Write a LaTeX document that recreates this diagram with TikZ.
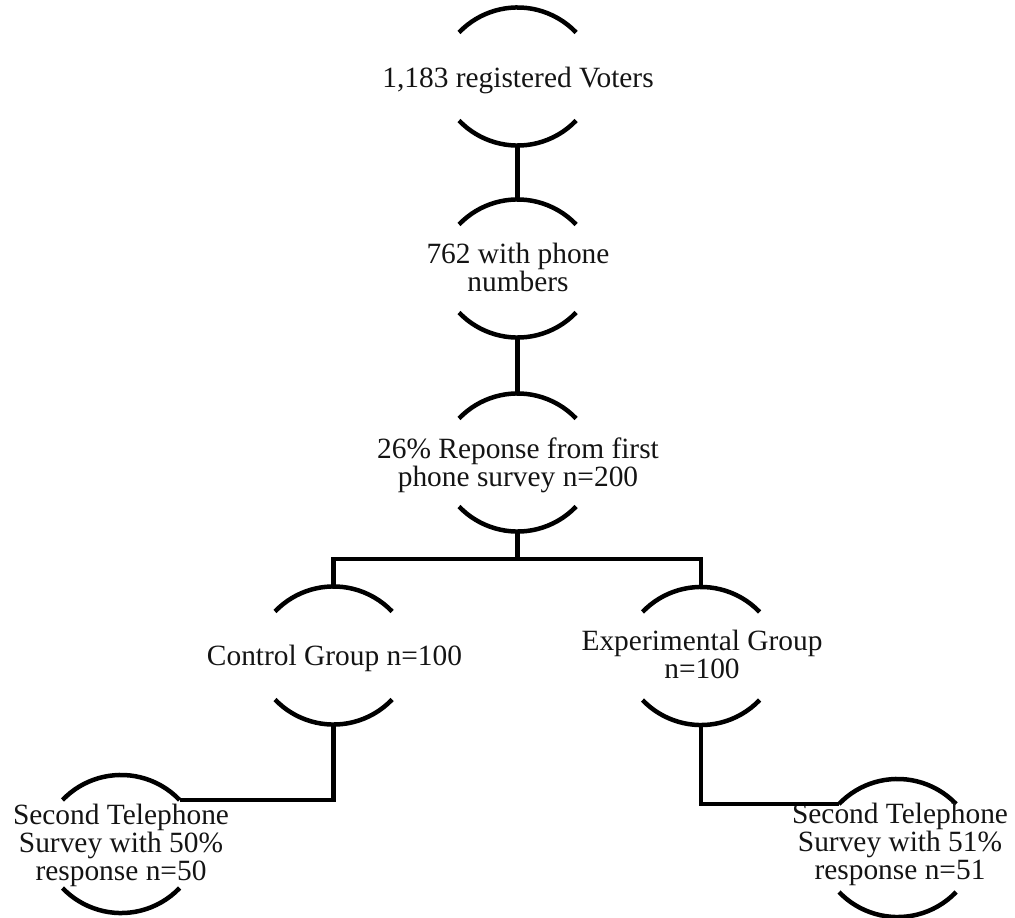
\documentclass[tikz,border=0pt]{standalone}
\usepackage{fontspec}
\setmainfont{Liberation Serif}
\tikzset{
  lnk/.style={line width=4.5pt, line join=miter},
  arcline/.style={line width=4.5pt, line cap=butt},
  lbl/.style={align=center, font=\fontsize{29.4}{28}\selectfont, inner sep=0pt, text=black!92}
}
% name, arc-center x, arc-center y, text x, text y, text
\newcommand\arcbox[6]{%
  \coordinate (#1) at (#2,#3);
  \path (#1) ++(0,-69) coordinate (#1-t);
  \path (#1) ++(0,69) coordinate (#1-b);
  \path (#1) ++(-58.5,-44) coordinate (#1-tl);
  \path (#1) ++(58.5,-44) coordinate (#1-tr);
  \path (#1) ++(-58.5,44) coordinate (#1-bl);
  \draw[arcline] (#1-tl) arc[start angle=136.3, end angle=43.7, radius=81pt];
  \draw[arcline] (#1-bl) arc[start angle=-136.3, end angle=-43.7, radius=81pt];
  \node[lbl] (#1-txt) at (#4,#5) {#6};
}
\begin{document}
\begin{tikzpicture}[x=1pt,y=-1pt]
\useasboundingbox (0,0) rectangle (1015,918);
\arcbox{n1}{517.5}{76.5}{518}{80}{1,183 registered Voters}
\arcbox{n2}{517.5}{268.5}{518}{267.5}{762 with phone\\numbers}
\arcbox{n3}{517.5}{462.5}{518}{465}{26\% Reponse from first\\phone survey n=200}
\arcbox{ctrl}{333.5}{655.5}{334.5}{658}{Control Group n=100}
\arcbox{exp}{701}{656}{702}{654}{Experimental Group\\n=100}
\arcbox{bl}{121}{844}{121}{845}{Second Telephone\\Survey with 50\%\\response n=50}
\arcbox{br}{897.5}{848}{900}{844}{Second Telephone\\Survey with 51\%\\response n=51}
\coordinate (split) at (517.5,559);
\draw[lnk] (n1-b) -- (n2-t);
\draw[lnk] (n2-b) -- (n3-t);
\draw[lnk] (n3-b) -- (split);
\draw[lnk] (ctrl-t) -- (ctrl-t |- split) -- (exp-t |- split) -- (exp-t);
\draw[lnk] (ctrl-b) |- (bl-tr);
\draw[lnk] (exp-b) |- (br-tl);
\end{tikzpicture}
\end{document}
